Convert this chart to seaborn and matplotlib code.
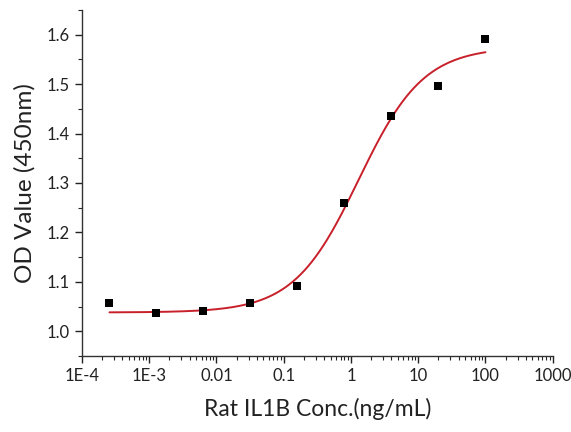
import numpy as np
import pandas as pd
import seaborn as sns
import matplotlib.pyplot as plt
from matplotlib.ticker import LogLocator, FixedLocator, MultipleLocator, NullFormatter

# measured points (5-fold dilution series)
conc = [100, 20, 4, 0.8, 0.16, 0.032, 0.0064, 0.00128, 0.000256]
od = [1.592, 1.497, 1.435, 1.260, 1.092, 1.057, 1.040, 1.037, 1.057]

# 4PL fit parameters
bottom = 1.038
top = 1.575
ec50 = 1.3
hill = 0.9

x_ticks = [1e-4, 1e-3, 1e-2, 1e-1, 1, 10, 100, 1000]
x_labels = ['1E-4', '1E-3', '0.01', '0.1', '1', '10', '100', '1000']
y_ticks = [1.0, 1.1, 1.2, 1.3, 1.4, 1.5, 1.6]

df = pd.DataFrame({'conc': conc, 'od': od})

xfit = np.logspace(np.log10(min(conc)), np.log10(max(conc)), 300)
yfit = bottom + (top - bottom) / (1 + (ec50 / xfit) ** hill)
fit = pd.DataFrame({'conc': xfit, 'od': yfit})

sns.set_style('ticks')
plt.rcParams['font.family'] = ['Lato', 'DejaVu Sans']

fig = plt.figure(figsize=(5.71, 4.32), dpi=100)
ax = fig.add_axes([0.1436, 0.176, 0.8244, 0.801])

sns.lineplot(x='conc', y='od', data=fit, color='#c8202a', linewidth=1.4, ax=ax)
sns.scatterplot(x='conc', y='od', data=df, marker='s', s=40, color='black',
                edgecolor='black', linewidth=0, zorder=3, ax=ax)

ax.set_xscale('log')
ax.set_xlim(1e-4, 1000)
ax.set_ylim(0.95, 1.65)
ax.xaxis.set_major_locator(FixedLocator(x_ticks))
ax.set_xticklabels(x_labels)
ax.xaxis.set_minor_locator(LogLocator(base=10, subs=np.arange(2, 10), numticks=20))
ax.xaxis.set_minor_formatter(NullFormatter())
ax.set_yticks(y_ticks)
ax.set_yticklabels([f'{v:.1f}' for v in y_ticks])
ax.yaxis.set_minor_locator(MultipleLocator(0.05))

ax.tick_params(axis='both', which='major', length=5, width=1, labelsize=12, colors='#222222')
ax.tick_params(axis='both', which='minor', length=3, width=0.8)
for s in ['left', 'bottom']:
    ax.spines[s].set_color('#333333')
    ax.spines[s].set_linewidth(1)
sns.despine(ax=ax)

ax.set_xlabel('Rat IL1B Conc.(ng/mL)', fontsize=16.5, labelpad=10, color='#222222')
ax.set_ylabel('OD Value (450nm)', fontsize=17.5, labelpad=8, color='#222222')

fig.savefig('out.png', dpi=100)
